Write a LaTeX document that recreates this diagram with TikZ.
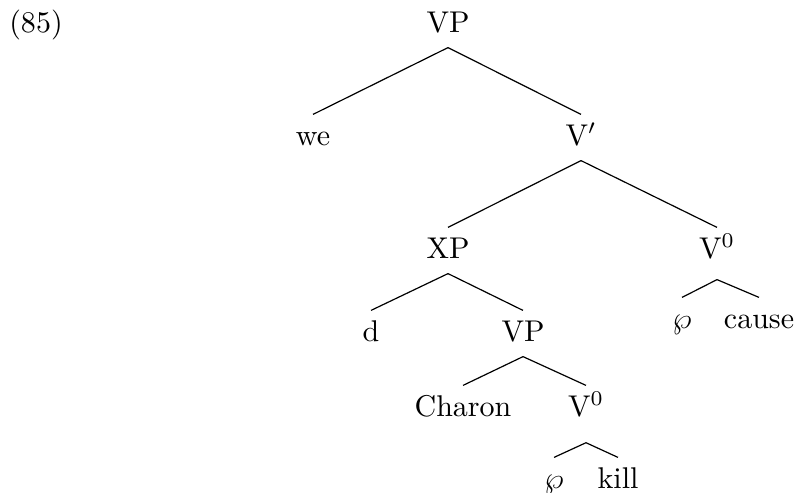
\documentclass[tikz,border=0pt]{standalone}
\usepackage{amsmath}
\usepackage{tikz}
\tikzstyle{cat}=[anchor=base,inner sep=3pt,text height=7pt,text depth=2pt]
\tikzstyle{branch} = [draw,-]

\begin{document}
\begin{tikzpicture}[x=0.3333pt,y=-0.3333pt]
    \useasboundingbox (0,0) rectangle (796,492);
    % Example number
    \node[cat] (ex) at (36,32) {(85)};
    % First we draw the categories and words
    \foreach \pos/\name/\lbl in {{(448,32)/vpa/VP}, {(313,145)/we/we}, {(581,145)/vbar/V$'$},
        {(448,258)/xp/XP}, {(371,341)/d/d}, {(523,341)/vpb/VP},
        {(682,328)/wpa/$\wp$}, {(759,328)/cause/cause},
        {(463,416)/charon/Charon}, {(554,488)/wpb/$\wp$}, {(618,488)/kill/kill}}
        \node[cat] (\name) at \pos {\lbl};
    % The two heads hang their daughters a bit lower
    \node[cat,text depth=4pt] (vcause) at (717,258) {V$^0$};
    \node[cat,text depth=5.7pt] (vkill) at (586,416) {V$^0$};
    % Connect mothers with daughters
    \foreach \source/ \dest in {vpa/we, vpa/vbar, vbar/xp, vbar/vcause, xp/d, xp/vpb,
        vcause/wpa, vcause/cause, vpb/charon, vpb/vkill, vkill/wpb, vkill/kill}
        \path[branch] (\source.south) -- (\dest.north) ;

\end{tikzpicture}
\end{document}
